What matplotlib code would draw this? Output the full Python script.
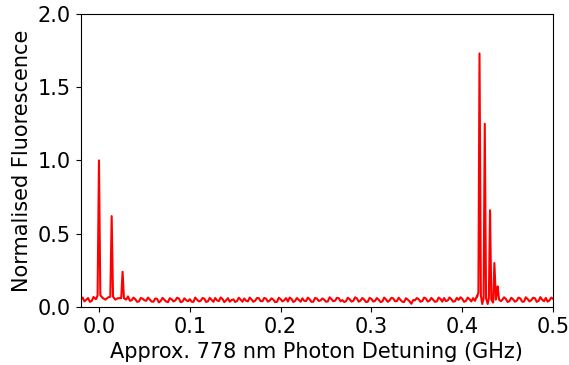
import numpy as np
import matplotlib

matplotlib.use("Agg")
import matplotlib.pyplot as plt

# baseline readings, one every 0.004 GHz from -0.02 to 0.5
base_start, base_step = -0.02, 0.004
base_y = [
    0.052, 0.038, 0.061, 0.041, 0.055, 0.047, 0.066, 0.058, 0.062, 0.050,
    0.058, 0.049, 0.063, 0.072, 0.045, 0.053, 0.038, 0.057, 0.042, 0.050,
    0.036, 0.055, 0.041, 0.049, 0.033, 0.052, 0.044, 0.058, 0.037, 0.047,
    0.053, 0.035, 0.050, 0.042, 0.057, 0.039, 0.048, 0.061, 0.040, 0.054,
    0.045, 0.036, 0.052, 0.041, 0.049, 0.058, 0.038, 0.051, 0.043, 0.060,
    0.039, 0.056, 0.044, 0.050, 0.035, 0.053, 0.046, 0.037, 0.055, 0.042,
    0.048, 0.059, 0.040, 0.052, 0.036, 0.057, 0.045, 0.050, 0.038, 0.054,
    0.043, 0.060, 0.047, 0.039, 0.053, 0.041, 0.058, 0.044, 0.051, 0.036,
    0.055, 0.042, 0.049, 0.037, 0.052, 0.045, 0.059, 0.040, 0.048, 0.034,
    0.050, 0.022, 0.046, 0.053, 0.040, 0.057, 0.043, 0.049, 0.038, 0.055,
    0.061, 0.044, 0.052, 0.039, 0.048, 0.056, 0.041, 0.053, 0.060, 0.072,
    0.050, 0.040, 0.050, 0.040, 0.060, 0.064, 0.048, 0.055, 0.040, 0.052,
    0.043, 0.058, 0.037, 0.054, 0.046, 0.060, 0.041, 0.050, 0.062, 0.045,
    0.055,
]
# readings halfway between the ones above (from -0.018 GHz)
mid_y = [
    0.064, 0.049, 0.035, 0.068, 0.040, 0.060, 0.044, 0.070, 0.045, 0.066,
    0.040, 0.068, 0.052, 0.043, 0.064, 0.035, 0.061, 0.046, 0.064, 0.037,
    0.058, 0.031, 0.062, 0.037, 0.060, 0.038, 0.063, 0.033, 0.059, 0.039,
    0.036, 0.064, 0.038, 0.061, 0.034, 0.062, 0.035, 0.045, 0.065, 0.033,
    0.060, 0.047, 0.034, 0.063, 0.036, 0.042, 0.064, 0.035, 0.061, 0.040,
    0.062, 0.036, 0.059, 0.033, 0.063, 0.038, 0.060, 0.064, 0.034, 0.061,
    0.036, 0.042, 0.064, 0.035, 0.062, 0.041, 0.058, 0.036, 0.066, 0.039,
    0.062, 0.039, 0.034, 0.063, 0.037, 0.066, 0.036, 0.061, 0.034, 0.062,
    0.037, 0.061, 0.034, 0.064, 0.035, 0.062, 0.039, 0.063, 0.036, 0.060,
    0.038, 0.047, 0.061, 0.036, 0.064, 0.037, 0.062, 0.035, 0.064, 0.036,
    0.040, 0.065, 0.036, 0.062, 0.066, 0.035, 0.064, 0.038, 0.042, 0.058,
    0.060, 0.060, 0.030, 0.070, 0.038, 0.040, 0.066, 0.034, 0.063, 0.036,
    0.064, 0.036, 0.066, 0.038, 0.063, 0.035, 0.067, 0.039, 0.036, 0.064,
]

# first resonance group (around zero detuning)
peaks1_x = [-0.003, -0.0015, 0.0, 0.0015, 0.004, 0.007, 0.010, 0.0125, 0.014,
            0.0155, 0.018, 0.021, 0.0245, 0.026, 0.0275, 0.030]
peaks1_y = [0.055, 0.08, 1.0, 0.08, 0.062, 0.05, 0.065, 0.07, 0.62,
            0.07, 0.05, 0.06, 0.06, 0.24, 0.06, 0.05]

# second resonance group (around 0.42 GHz)
peaks2_x = [0.4165, 0.4178, 0.419, 0.4205, 0.422, 0.4235, 0.4248, 0.4262, 0.428,
            0.4293, 0.4306, 0.432, 0.434, 0.4354, 0.437, 0.438, 0.439, 0.4405, 0.4425]
peaks2_y = [0.07, 0.10, 1.73, 0.08, 0.02, 0.06, 1.25, 0.06, 0.02,
            0.06, 0.66, 0.05, 0.03, 0.30, 0.05, 0.09, 0.14, 0.05, 0.04]

bx = np.concatenate([base_start + base_step * np.arange(len(base_y)),
                     base_start + base_step / 2 + base_step * np.arange(len(mid_y))])
by = np.array(base_y + mid_y)
keep = ~(((bx >= peaks1_x[0]) & (bx <= peaks1_x[-1])) |
         ((bx >= peaks2_x[0]) & (bx <= peaks2_x[-1])))
x = np.concatenate([bx[keep], peaks1_x, peaks2_x])
y = np.concatenate([by[keep], peaks1_y, peaks2_y])
order = np.argsort(x)
x, y = x[order], y[order]

plt.rcParams["font.size"] = 15
fig = plt.figure(figsize=(5.69, 3.65), dpi=100)
ax = fig.add_axes([0.142, 0.159, 0.830, 0.803])
ax.plot(x, y, color="red", lw=1.5)
ax.set_xlim(-0.02, 0.5)
ax.set_ylim(0, 2.0)
ax.set_xticks([0.0, 0.1, 0.2, 0.3, 0.4, 0.5])
ax.set_yticks([0.0, 0.5, 1.0, 1.5, 2.0])
ax.set_xlabel("Approx. 778 nm Photon Detuning (GHz)")
ax.set_ylabel("Normalised Fluorescence")
fig.savefig("out.png", dpi=100)
